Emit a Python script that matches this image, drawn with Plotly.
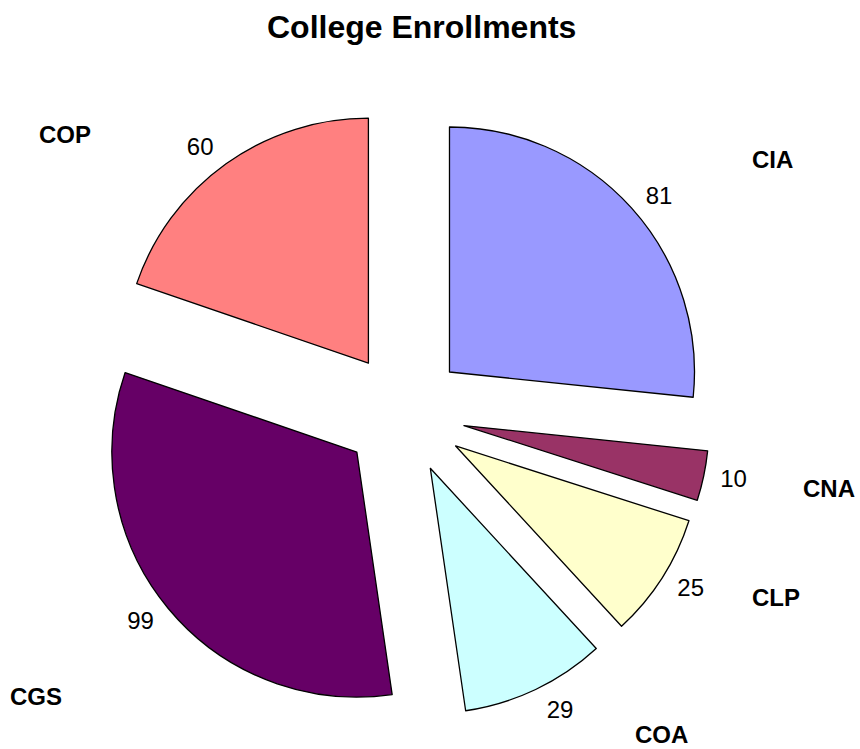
import plotly.graph_objects as go

# ---- data ----
categories = ["CIA", "CNA", "CLP", "COA", "CGS", "COP"]
enrollments = [81, 10, 25, 29, 99, 60]
slice_colors = ["#9999FF", "#993366", "#FFFFCC", "#CCFFFF", "#660066", "#FF8080"]
title_text = "College Enrollments"

# ---- layout constants ----
W, H = 860, 749
PULL = 0.25
FONT = "Liberation Sans, Arial, sans-serif"
CX, CY = 404, 413          # pie centre (px)
R = 245                    # pie radius (px)
R_TEXT = 253               # radius of the label-carrying pie (px)

# category label placement (pixel centres) -- layout only
label_px = [(772, 159), (829, 488), (776, 597), (661, 734), (36, 696), (65, 134)]


def domain_for(radius):
    half = radius * (1 + PULL)
    return dict(x=[(CX - half - 60) / W, (CX + half + 60) / W],
                y=[1 - (CY + half) / H, 1 - (CY - half) / H])


fig = go.Figure()
# transparent copy of the pie that only carries the value labels a bit further out
fig.add_trace(go.Pie(
    labels=categories, values=enrollments, sort=False, direction="clockwise",
    rotation=0, pull=[PULL] * len(categories),
    marker=dict(colors=["rgba(0,0,0,0)"] * len(categories),
                line=dict(color="rgba(0,0,0,0)", width=0)),
    textinfo="value", textposition="outside",
    outsidetextfont=dict(family=FONT, size=24, color="black"),
    domain=domain_for(R_TEXT), hoverinfo="skip", automargin=False,
    showlegend=False,
))
# the visible exploded pie
fig.add_trace(go.Pie(
    labels=categories, values=enrollments, sort=False, direction="clockwise",
    rotation=0, pull=[PULL] * len(categories),
    marker=dict(colors=slice_colors, line=dict(color="black", width=1.3)),
    textinfo="none",
    domain=domain_for(R), hoverinfo="label+value", automargin=False,
    showlegend=False,
))

annotations = []
for name, (px, py) in zip(categories, label_px):
    annotations.append(dict(
        text="<b>%s</b>" % name,
        x=px / W, y=1 - py / H, xref="paper", yref="paper",
        xanchor="center", yanchor="middle", showarrow=False,
        font=dict(family=FONT, size=24, color="black"),
    ))

fig.update_layout(
    width=W, height=H,
    margin=dict(l=0, r=0, t=0, b=0, autoexpand=False),
    paper_bgcolor="white", plot_bgcolor="white",
    title=dict(text="<b>%s</b>" % title_text, x=421.7 / W, xanchor="center",
               y=1 - 27 / H, yanchor="middle", yref="container",
               font=dict(family=FONT, size=32, color="black")),
    annotations=annotations,
    showlegend=False,
)

fig.write_html("out.html", config={"displayModeBar": False},
               post_script="document.body.style.margin='0px';")
